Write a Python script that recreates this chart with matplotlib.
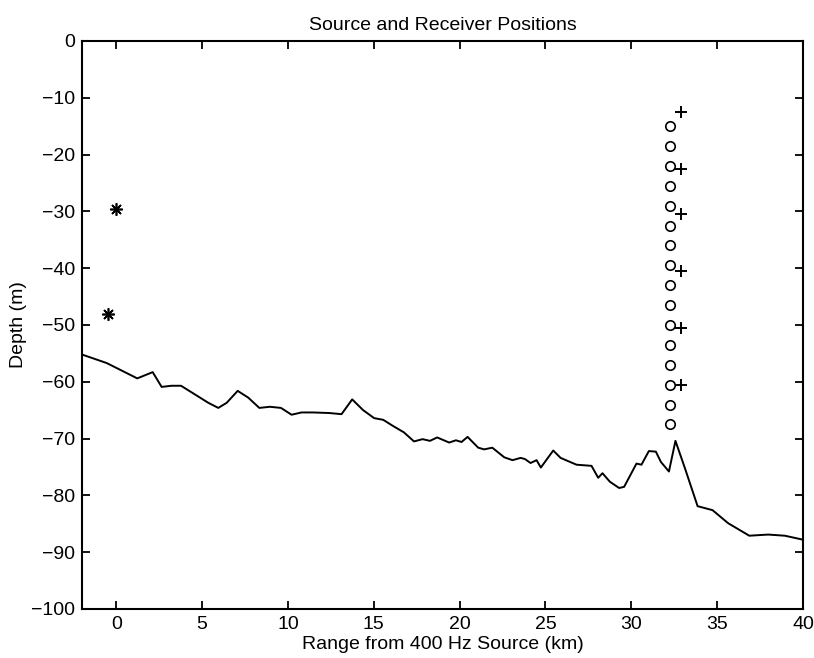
import matplotlib
matplotlib.use("Agg")
import matplotlib.pyplot as plt

plt.rcParams['font.family'] = ['Liberation Sans', 'DejaVu Sans']

# Bathymetry profile along the track (range km, depth m)
bathy_range = [-2.0, -0.56, 1.22, 2.12, 2.64, 3.22, 3.77, 5.36, 5.94, 6.43, 7.07,
               7.69, 8.33, 8.95, 9.59, 10.21, 10.79, 11.47, 12.4, 13.12, 13.74,
               14.38, 15.02, 15.55, 16.13, 16.75, 17.34, 17.84, 18.27, 18.69,
               19.39, 19.78, 20.11, 20.46, 21.08, 21.43, 21.9, 22.6, 23.08, 23.55,
               23.8, 24.13, 24.48, 24.73, 25.45, 25.88, 26.42, 26.81, 27.68, 28.07,
               28.32, 28.75, 29.29, 29.58, 30.30, 30.59, 31.02, 31.43, 31.72,
               32.19, 32.57, 33.12, 33.86, 34.73, 35.64, 36.87, 37.97, 38.94, 40.0]
bathy_depth = [-55.2, -56.7, -59.4, -58.3, -60.9, -60.7, -60.7, -63.7, -64.6, -63.7,
               -61.6, -62.8, -64.6, -64.4, -64.6, -65.8, -65.4, -65.4, -65.5, -65.7,
               -63.1, -65.0, -66.4, -66.7, -67.8, -68.9, -70.5, -70.1, -70.4, -69.8,
               -70.7, -70.3, -70.6, -69.7, -71.6, -71.9, -71.6, -73.3, -73.8, -73.4,
               -73.6, -74.3, -73.8, -75.1, -72.1, -73.4, -74.1, -74.6, -74.8, -76.9,
               -76.1, -77.6, -78.7, -78.5, -74.4, -74.6, -72.2, -72.3, -74.1, -75.8,
               -70.4, -75.2, -81.9, -82.6, -84.9, -87.1, -86.9, -87.1, -87.8]

# Sources (asterisks)
source_range = [0.0, -0.5]
source_depth = [-29.5, -48.0]

# Vertical receiver array (circles)
array_range = 32.25
array_depth = [-15.0, -18.5, -22.0, -25.5, -29.0, -32.5, -36.0, -39.5, -43.0,
               -46.5, -50.0, -53.5, -57.0, -60.5, -64.0, -67.5]

# Additional receivers (plus signs)
plus_range = 32.9
plus_depth = [-12.5, -22.5, -30.5, -40.5, -50.5, -60.5]

fig = plt.figure(figsize=(8.14, 6.58), dpi=100)
ax = fig.add_axes([0.1007, 0.0745, 0.8858, 0.8632])

ax.plot(bathy_range, bathy_depth, color='black', linewidth=1.4)
ax.plot(source_range, source_depth, linestyle='none', marker=(8, 2, 0),
        markersize=9, markeredgewidth=1.2, color='black')
ax.plot([array_range] * len(array_depth), array_depth, linestyle='none',
        marker='o', markersize=6.8, markerfacecolor='none',
        markeredgecolor='black', markeredgewidth=1.2)
ax.plot([plus_range] * len(plus_depth), plus_depth, linestyle='none',
        marker='+', markersize=8, markeredgewidth=1.4, color='black')

ax.set_xlim(-2, 40)
ax.set_ylim(-100, 0)
ax.set_xticks(range(0, 41, 5))
ax.set_yticks(range(-100, 1, 10))
ax.set_yticklabels(['\u2212' + str(abs(v)) if v < 0 else str(v)
                    for v in range(-100, 1, 10)])

ax.tick_params(direction='in', top=True, right=True, length=6, width=1.3,
               labelsize=14, pad=5)
for s in ax.spines.values():
    s.set_linewidth(1.5)

ax.set_title('Source and Receiver Positions', fontsize=14, pad=8)
ax.set_xlabel('Range from 400 Hz Source (km)', fontsize=14, labelpad=2)
ax.set_ylabel('Depth (m)', fontsize=14, labelpad=3)

fig.savefig('out.png', dpi=100)
